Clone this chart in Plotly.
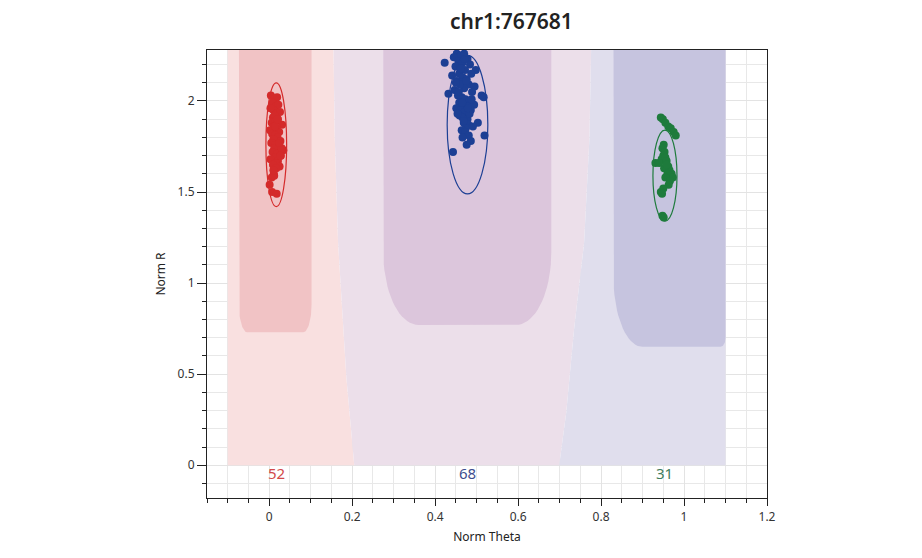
import numpy as np
import plotly.graph_objects as go

# Genotyp-Cluster fuer chr1:767681
title = "chr1:767681"
genotypes = ["AA", "AB", "BB"]
counts = [52, 68, 31]

theta_aa = [0.004, 0.012, 0.019, 0.008, 0.015, 0.022, 0.010, 0.003, 0.017, 0.026,
            0.009, 0.013, 0.021, 0.006, 0.016, 0.031, 0.011, 0.002, 0.018, 0.024,
            0.007, 0.014, 0.020, 0.027, 0.010, 0.005, 0.016, 0.023, 0.012, 0.034,
            0.008, 0.019, 0.028, 0.013, 0.003, 0.021, 0.015, 0.009, 0.025, 0.017,
            0.011, 0.006, 0.030, 0.014, 0.020, 0.024, 0.027, 0.012, 0.001, 0.007,
            0.018, 0.010]
r_aa = [2.03, 2.01, 2.02, 1.99, 1.97, 1.98, 1.95, 1.96, 1.93, 1.94,
        1.91, 1.92, 1.90, 1.88, 1.89, 1.87, 1.86, 1.84, 1.85, 1.83,
        1.82, 1.81, 1.80, 1.78, 1.79, 1.77, 1.76, 1.75, 1.74, 1.73,
        1.72, 1.71, 1.70, 1.69, 1.68, 1.67, 1.66, 1.65, 1.64, 1.63,
        1.60, 1.58, 1.74, 1.86, 1.90, 1.77, 1.70, 1.59, 1.54, 1.50,
        1.49, 1.62]

theta_ab = [0.452, 0.461, 0.470, 0.445, 0.478, 0.423, 0.456, 0.466, 0.484, 0.498,
            0.449, 0.460, 0.472, 0.487, 0.458, 0.466, 0.476, 0.441, 0.452, 0.463,
            0.481, 0.495, 0.432, 0.447, 0.470, 0.489, 0.512, 0.517, 0.455, 0.464,
            0.473, 0.482, 0.458, 0.468, 0.477, 0.494, 0.451, 0.462, 0.471, 0.486,
            0.459, 0.466, 0.478, 0.503, 0.469, 0.480, 0.474, 0.464, 0.491, 0.519,
            0.472, 0.481, 0.466, 0.486, 0.443, 0.476, 0.460, 0.454, 0.469, 0.483,
            0.457, 0.475, 0.462, 0.488, 0.471, 0.479, 0.465, 0.450]
r_ab = [2.26, 2.25, 2.26, 2.24, 2.23, 2.21, 2.22, 2.21, 2.20, 2.17,
        2.19, 2.18, 2.17, 2.15, 2.15, 2.13, 2.12, 2.14, 2.11, 2.10,
        2.09, 2.08, 2.04, 2.06, 2.07, 2.05, 2.03, 2.02, 2.03, 2.02,
        2.01, 2.00, 1.99, 1.98, 1.97, 1.98, 1.96, 1.95, 1.94, 1.95,
        1.92, 1.91, 1.90, 1.88, 1.88, 1.87, 1.85, 1.84, 1.86, 1.81,
        1.83, 1.81, 1.80, 1.78, 1.72, 1.76, 2.09, 1.93, 1.89, 1.93,
        2.05, 2.11, 2.18, 2.01, 2.23, 1.96, 1.99, 2.10]

theta_bb = [0.944, 0.949, 0.955, 0.962, 0.968, 0.975, 0.980, 0.951, 0.948, 0.953,
            0.950, 0.946, 0.955, 0.931, 0.940, 0.958, 0.962, 0.965, 0.952, 0.970,
            0.960, 0.973, 0.955, 0.966, 0.963, 0.950, 0.944, 0.947, 0.948, 0.951, 0.958]
r_bb = [1.91, 1.90, 1.88, 1.86, 1.85, 1.83, 1.81, 1.76, 1.74, 1.72,
        1.70, 1.68, 1.69, 1.66, 1.66, 1.67, 1.64, 1.62, 1.63, 1.60,
        1.60, 1.58, 1.58, 1.56, 1.54, 1.52, 1.50, 1.49, 1.37, 1.36, 1.65]

# Cluster-Ellipsen: Mittelpunkt und Halbachsen
ell_theta = [0.017, 0.478, 0.954]
ell_r = [1.76, 1.87, 1.59]
ell_a = [0.025, 0.049, 0.029]
ell_b = [0.34, 0.38, 0.25]

# Grenzen der Genotyp-Bereiche (Norm Theta bei gegebenem Norm R)
region_r_top = 2.28
region_theta_min, region_theta_max = -0.1, 1.1
border1_r = [0.0, 0.48, 1.22, 1.8, 2.28]
border1_theta = [0.205, 0.186, 0.166, 0.158, 0.155]
border2_r = [0.0, 0.29, 0.75, 1.22, 1.8, 2.28]
border2_theta = [0.699, 0.716, 0.735, 0.759, 0.772, 0.776]

# Kernbereiche: linke/rechte Grenze und untere Kante
core_left = [-0.073, 0.275, 0.830]
core_right = [0.102, 0.680, 1.100]
core_bottom = [0.73, 0.77, 0.65]

colors = ["#d42a2a", "#1c3f94", "#1e7b3c"]
label_colors = ["#d24a4a", "#3d4d8e", "#3f7d5c"]
light_fill = ["#f9e0e0", "#ecdfea", "#e0deed"]
dark_fill = ["#f1c3c5", "#dcc6dc", "#c6c4df"]
corner_l = [(0.02, 0.15), (0.085, 0.40), (0.07, 0.38)]
corner_r = [(0.02, 0.15), (0.085, 0.40), (0.012, 0.05)]


def core_path(x0, x1, yb, yt, cl, cr):
    t1 = np.linspace(np.pi, 1.5 * np.pi, 20)
    t2 = np.linspace(1.5 * np.pi, 2 * np.pi, 20)
    xs = [x0] + list(x0 + cl[0] + cl[0] * np.cos(t1)) + list(x1 - cr[0] + cr[0] * np.cos(t2)) + [x1]
    ys = [yt] + list(yb + cl[1] + cl[1] * np.sin(t1)) + list(yb + cr[1] + cr[1] * np.sin(t2)) + [yt]
    return xs, ys


fig = go.Figure()

# helle Bereiche
b1x, b1y = list(border1_theta), list(border1_r)
b2x, b2y = list(border2_theta), list(border2_r)
light_x = [
    [region_theta_min] + b1x + [region_theta_min],
    b1x + b2x[::-1],
    b2x + [region_theta_max, region_theta_max],
]
light_y = [
    [0] + b1y + [region_r_top],
    b1y + b2y[::-1],
    b2y + [region_r_top, 0],
]
for i in range(3):
    fig.add_trace(go.Scatter(x=light_x[i], y=light_y[i], mode="lines", fill="toself",
                             fillcolor=light_fill[i], line=dict(width=0),
                             hoverinfo="skip", showlegend=False))

# dunkle Kernbereiche
for i in range(3):
    xs, ys = core_path(core_left[i], core_right[i], core_bottom[i], region_r_top, corner_l[i], corner_r[i])
    fig.add_trace(go.Scatter(x=xs, y=ys, mode="lines", fill="toself",
                             fillcolor=dark_fill[i], line=dict(width=0),
                             hoverinfo="skip", showlegend=False))

# Punkte
for th, rr, c, g in zip([theta_aa, theta_ab, theta_bb], [r_aa, r_ab, r_bb], colors, genotypes):
    fig.add_trace(go.Scatter(x=th, y=rr, mode="markers", name=g,
                             marker=dict(size=8, color=c, line=dict(width=0)),
                             showlegend=False))

# Ellipsen und Anzahl
for i in range(3):
    fig.add_shape(type="circle", xref="x", yref="y",
                  x0=ell_theta[i] - ell_a[i], x1=ell_theta[i] + ell_a[i],
                  y0=ell_r[i] - ell_b[i], y1=ell_r[i] + ell_b[i],
                  line=dict(color=colors[i], width=1.2))
    fig.add_annotation(x=ell_theta[i], y=-0.045, text=str(counts[i]), showarrow=False,
                       font=dict(size=15, color=label_colors[i]))

axis_style = dict(
    showline=True, linecolor="#222", linewidth=1.2, mirror=True,
    ticks="outside", tickcolor="#222", showgrid=True, gridcolor="#e3e3e3",
    zeroline=False, tickfont=dict(size=12, color="#333"),
)
fig.update_xaxes(range=[-0.15, 1.2], tick0=0, dtick=0.2, ticklen=7,
                 minor=dict(dtick=0.05, ticks="outside", ticklen=4, tickcolor="#222",
                            showgrid=True, gridcolor="#e8e8e8"),
                 title=dict(text="Norm Theta", font=dict(size=12, color="#222"), standoff=9),
                 **axis_style)
fig.update_yaxes(range=[-0.18, 2.28], tick0=0, dtick=0.5, ticklen=9,
                 minor=dict(dtick=0.1, ticks="outside", ticklen=4, tickcolor="#222",
                            showgrid=True, gridcolor="#e8e8e8"),
                 title=dict(text="Norm R", font=dict(size=12, color="#222"), standoff=9),
                 **axis_style)

# Seite hat 8px Rand, daher Raender verschoben
fig.update_layout(
    width=922, height=558,
    margin=dict(l=199, r=163, t=42, b=68),
    title=dict(text=title, x=0.546, xanchor="center", y=0.975, yanchor="middle",
               font=dict(size=21, color="#222", weight=600)),
    font=dict(family="Noto Sans"),
    plot_bgcolor="white", paper_bgcolor="white",
)

fig.write_html("out.html")
